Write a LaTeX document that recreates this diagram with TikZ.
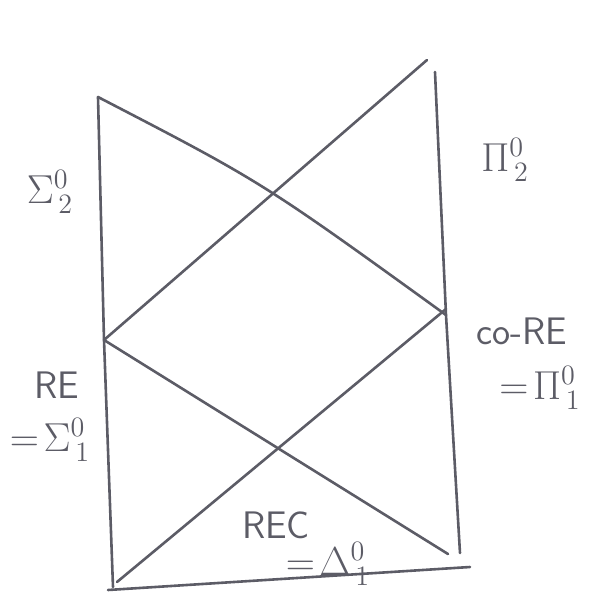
\documentclass[tikz,border=0pt]{standalone}
\usepackage{amsmath}
\definecolor{pencil}{RGB}{92,92,102}
\newcommand{\cls}[1]{\scalebox{1.95}{\huge$#1$}}
\newcommand{\txt}[1]{\scalebox{1.85}{\huge\sffamily #1}}

\begin{document}
\begin{tikzpicture}[
    x=1pt, y=-1pt,
    stroke/.style={draw=pencil, line width=2.6pt, line cap=round, line join=round},
    lbl/.style={text=pencil, inner sep=0pt}
]
\useasboundingbox (0,0) rectangle (589,592);

% corners of the two columns
\coordinate (lt) at (98,97);
\coordinate (lm) at (104,340);
\coordinate (lb) at (113,587);
\coordinate (rt) at (435,72);
\coordinate (rm) at (446,315);
\coordinate (rb) at (460,553);
\coordinate (tip) at (427,60);      % free end, top right
\coordinate (bl) at (108,590);
\coordinate (br) at (470,567);
\coordinate (lo) at (117,582);
\coordinate (rlo) at (448,554);
\coordinate (rhi) at (446,309);

\draw[stroke] (lt) -- (lm) -- (lb);
\draw[stroke] (rt) -- (rm) -- (rb);
\draw[stroke] (bl) -- (br);

% the crossing diagonals
\draw[stroke] (lt) .. controls (262,182) .. (rm);
\draw[stroke] (lm) -- (tip);
\draw[stroke] (lm) -- (rlo);
\draw[stroke] (lo) -- (rhi);

% classes
\node[lbl] (sig2) at (50,192) {\cls{\Sigma^0_{\,2}}};
\node[lbl] (pi2) at (505,160) {\cls{\Pi^0_{\,2}}};
\node[lbl] (re) at (57,385) {\txt{RE}};
\node[lbl] (sig1) at (50,440) {\cls{=\!\Sigma^0_{\,1}}};
\node[lbl] (core) at (522,331) {\txt{co-RE}};
\node[lbl] (pi1) at (540,388) {\cls{=\!\Pi^0_{\,1}}};
\node[lbl] (rec) at (276,525) {\txt{REC}};
\node[lbl] (del1) at (328,564) {\cls{=\!\Delta^0_{\,1}}};
\end{tikzpicture}
\end{document}
